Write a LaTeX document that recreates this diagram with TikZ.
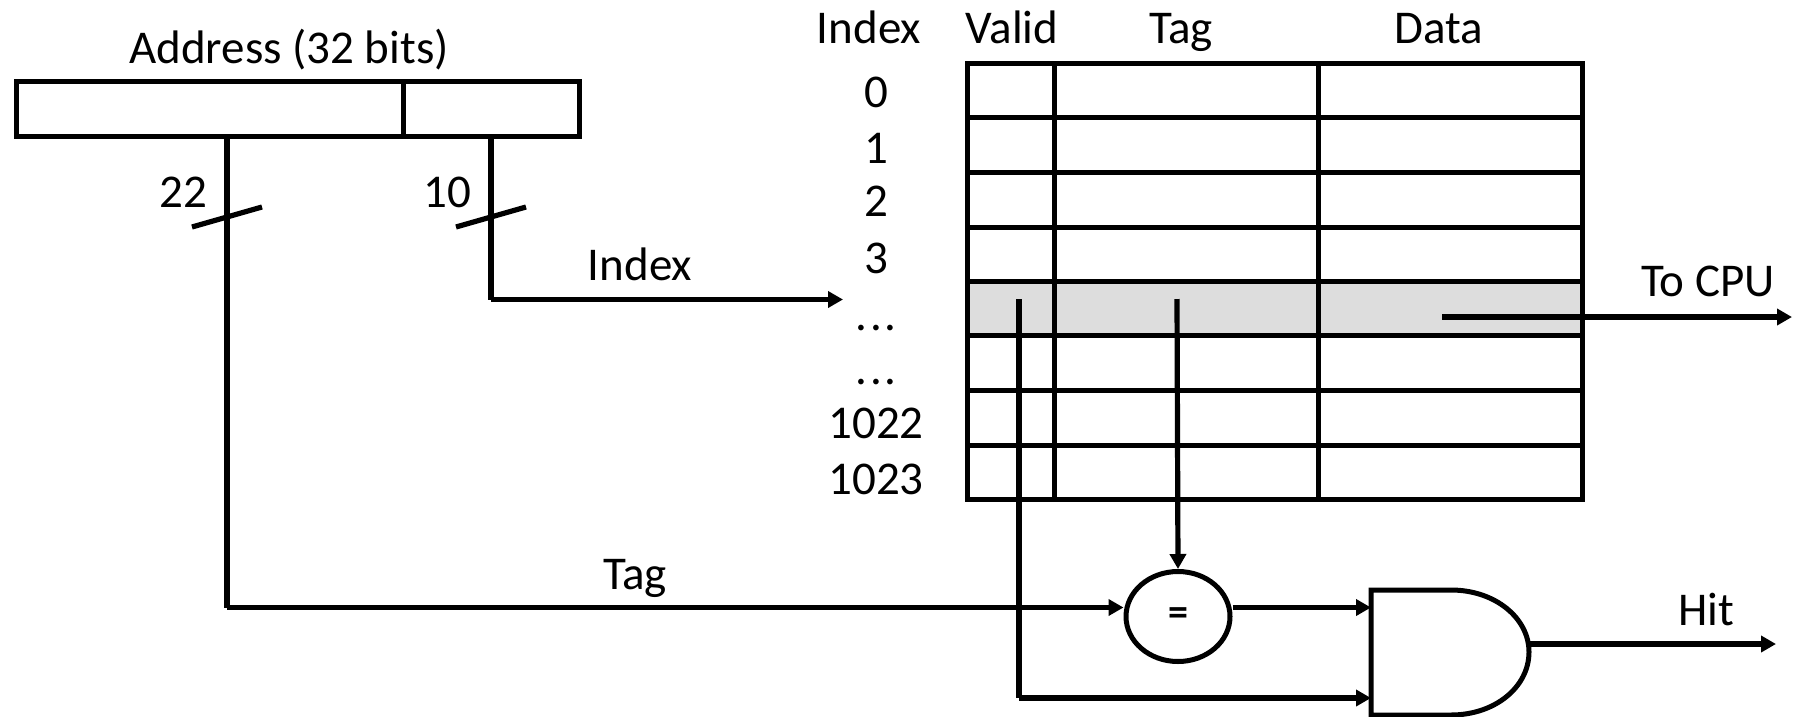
\documentclass[tikz,border=0pt]{standalone}
\usepackage{fontspec}
\setmainfont{Carlito}
\usetikzlibrary{arrows.meta,shapes.geometric}
\tikzset{
  wire/.style={line width=5.2pt,draw=black},
  arrowwire/.style={wire,-{Triangle[length=15pt,width=16pt]}},
  frame/.style={line width=5pt,draw=black},
  lbl/.style={anchor=base,inner sep=0pt,font=\fontsize{47}{50}\selectfont},
  cmp/.style={ellipse,draw=black,line width=5pt,fill=white,minimum width=104pt,minimum height=90pt,inner sep=0pt,font=\fontsize{40}{42}\bfseries\selectfont}
}
\begin{document}
\begin{tikzpicture}[x=1pt,y=-1pt]
\useasboundingbox (0,0) rectangle (1797,716);
% highlighted row
\fill[fill=black!13.5] (967,281) rectangle (1582,335);
% table
\foreach \yy in {63,117,172,227,281,335,390,445,499}{\draw[frame] (967,\yy) -- (1582,\yy);}
\foreach \xx in {1054,1318}{\draw[frame] (\xx,63) -- (\xx,499);}
\draw[frame] (967,63) rectangle (1582,499);
% address box
\draw[frame] (16,81) rectangle (579,136);
\draw[frame] (403,81) -- (403,136);
% named points
\coordinate (tagtop) at (227,136);
\coordinate (tagcorner) at (227,607.5);
\coordinate (idxtop) at (491,136);
\coordinate (idxcorner) at (491,299.5);
\coordinate (idxend) at (843,299.5);
\coordinate (s1a) at (192,227); \coordinate (s1b) at (262,207);
\coordinate (s2a) at (456,227); \coordinate (s2b) at (526,207);
\coordinate (validtop) at (1019,299);
\coordinate (validcorner) at (1019,698);
\coordinate (tagout) at (1177,299);
\coordinate (dataout) at (1442,317);
\coordinate (cpu) at (1792,317);
\coordinate (in1) at (1371,607.5);
\coordinate (in2) at (1371,698);
\coordinate (gateout) at (1530,644);
\coordinate (hit) at (1776,644);
% comparator
\node[cmp] (eq) at (1178,616.5) {=};
% and gate
\draw[frame] (1371,590) -- (1451,590) .. controls (1495,590) and (1529,618) .. (1529,652) .. controls (1529,687) and (1495,715) .. (1451,715) -- (1371,715) -- cycle;
% connectors
\draw[wire] (tagtop) -- (tagcorner);
\draw[arrowwire] (tagcorner) -- (eq.west |- tagcorner);
\draw[wire] (idxtop) -- (idxcorner);
\draw[arrowwire] (idxcorner) -- (idxend);
\draw[wire] (s1a) -- (s1b);
\draw[wire] (s2a) -- (s2b);
\draw[wire] (validtop) -- (validcorner);
\draw[arrowwire] (validcorner) -- (in2);
\draw[arrowwire] (tagout) -- (eq.north);
\draw[arrowwire] (eq.east |- in1) -- (in1);
\draw[arrowwire] (dataout) -- (cpu);
\draw[arrowwire] (gateout) -- (hit);
% labels
\node[lbl] (addr) at (289,63) {Address (32 bits)};
\node[lbl] (n22) at (183,207) {22};
\node[lbl] (n10) at (447,207) {10};
\node[lbl] (lidx) at (640,280) {Index};
\node[lbl] (ltag) at (635,589) {Tag};
\node[lbl] (hidx) at (869,43) {Index};
\node[lbl] (hval) at (1012,43) {Valid};
\node[lbl] (htag) at (1181,43) {Tag};
\node[lbl] (hdat) at (1439,43) {Data};
\node[lbl] (i0) at (876,107) {0};
\node[lbl] (i1) at (876,163) {1};
\node[lbl] (i2) at (876,216) {2};
\node[lbl] (i3) at (876,273) {3};
\node[lbl] (d1) at (876,330) {.\hspace{3pt}.\hspace{3pt}.};
\node[lbl] (d2) at (876,384) {.\hspace{3pt}.\hspace{3pt}.};
\node[lbl] (i1022) at (876,438) {1022};
\node[lbl] (i1023) at (876,494) {1023};
\node[lbl] (lcpu) at (1708,296) {To CPU};
\node[lbl] (lhit) at (1706,625) {Hit};
\end{tikzpicture}
\end{document}
